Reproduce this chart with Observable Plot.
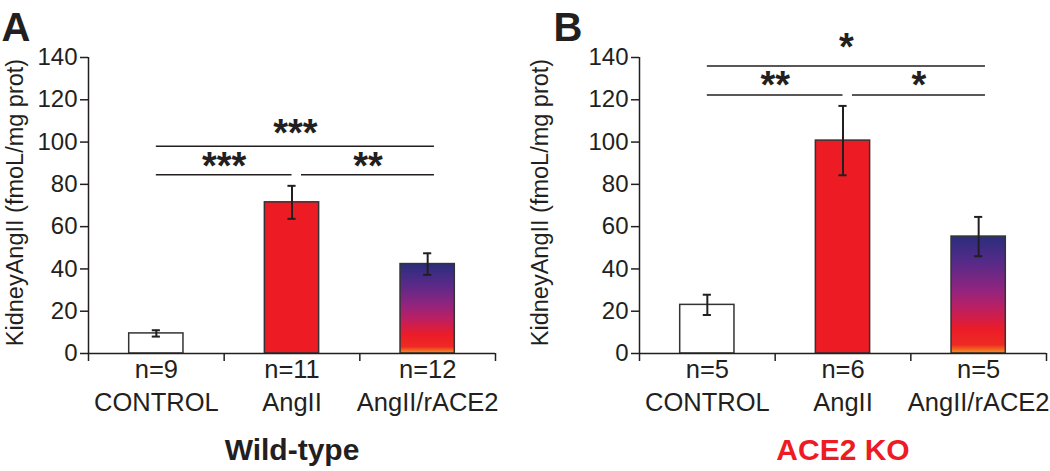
<!DOCTYPE html>
<html>
<head>
<meta charset="utf-8">
<script src="https://cdn.jsdelivr.net/npm/d3@7"></script>
<script src="https://cdn.jsdelivr.net/npm/@observablehq/plot@0.6"></script>
<style>
  html, body { margin: 0; padding: 0; background: #fff; }
  #row { display: flex; flex-direction: row; width: 1050px; height: 471px; }
  svg { font-family: "Liberation Sans", Arial, sans-serif; }
</style>
</head>
<body>
<div id="row"></div>
<script>
const categories = ["CONTROL", "AngII", "AngII/rACE2"];
const yTicks = [0, 20, 40, 60, 80, 100, 120, 140];

const wtValues = [9.5, 71.5, 42.3];
const wtErrors = [1.5, 7.8, 5.1];
const wtN = [9, 11, 12];

const koValues = [23.0, 100.7, 55.3];
const koErrors = [4.8, 16.4, 9.3];
const koN = [5, 6, 5];

const wtSig = [
  {from: 0, to: 2, level: 98, labelLevel: 107.3, label: "***"},
  {from: 0, to: 1, level: 84.5, labelLevel: 91.7, label: "***"},
  {from: 1, to: 2, level: 84.5, labelLevel: 91.7, label: "**"}
];
const koSig = [
  {from: 0, to: 2, level: 136, labelLevel: 148, label: "*"},
  {from: 0, to: 1, level: 122.3, labelLevel: 130.2, label: "**"},
  {from: 1, to: 2, level: 122.3, labelLevel: 130.2, label: "*"}
];

const fillColors = ["#ffffff", "#ed1c24", null];
const ink = "#231f20";

function gradientDefs(id) {
  return () => {
    const ns = "http://www.w3.org/2000/svg";
    const defs = document.createElementNS(ns, "defs");
    const g = document.createElementNS(ns, "linearGradient");
    g.setAttribute("id", id);
    g.setAttribute("x1", "0"); g.setAttribute("y1", "0");
    g.setAttribute("x2", "0"); g.setAttribute("y2", "1");
    const stops = [
      [0, "#2b2e7d"], [0.22, "#552a88"], [0.45, "#8e2580"], [0.62, "#bd1f62"],
      [0.8, "#ec1c27"], [0.93, "#ee2a24"], [1, "#f7941d"]
    ];
    for (const [o, c] of stops) {
      const s = document.createElementNS(ns, "stop");
      s.setAttribute("offset", o);
      s.setAttribute("stop-color", c);
      g.appendChild(s);
    }
    defs.appendChild(g);
    return defs;
  };
}

function panel({values, errors, ns, sig, title, titleColor, letter, marginLeft, marginRight, gradId, letterDx}) {
  const data = categories.map((c, i) => ({
    i, cat: c, value: values[i], err: errors[i], n: ns[i],
    fill: fillColors[i] ?? `url(#${gradId})`
  }));
  const lines = sig.map(s => ({
    ...s,
    x1: s.from + 0.5 + (s.from > 0 ? 0.07 : 0),
    x2: s.to + 0.5 + (s.to === 2 ? 0.05 : 0)
  }));
  return Plot.plot({
    width: 525,
    height: 471,
    marginLeft,
    marginRight,
    marginTop: 57,
    marginBottom: 118,
    style: {fontFamily: '"Liberation Sans", Arial, sans-serif', color: ink, overflow: "visible"},
    x: {domain: [0, 3], axis: null},
    y: {domain: [0, 140], axis: null},
    marks: [
      gradientDefs(gradId),
      Plot.axisY({ticks: yTicks, tickSize: 8, tickPadding: 3, fontSize: 24, label: null, stroke: ink, strokeWidth: 1.5, fill: ink}),
      Plot.axisX({ticks: [0, 1, 2, 3], tickSize: 8, tickFormat: () => "", label: null, stroke: ink, strokeWidth: 1.5}),
      Plot.ruleX([0], {y1: 0, y2: 140, stroke: ink, strokeWidth: 1.5}),
      Plot.rectY(data, {x1: d => d.i + 0.3, x2: d => d.i + 0.7, y: "value", fill: "fill", stroke: "#333", strokeWidth: 1.5}),
      Plot.ruleY([0], {x1: 0, x2: 3, stroke: ink, strokeWidth: 1.5}),
      Plot.ruleX(data, {x: d => d.i + 0.5, y1: d => d.value - d.err, y2: d => d.value + d.err, stroke: ink, strokeWidth: 2}),
      Plot.ruleY(data, {y: d => d.value + d.err, x1: d => d.i + 0.47, x2: d => d.i + 0.53, stroke: ink, strokeWidth: 2}),
      Plot.ruleY(data, {y: d => d.value - d.err, x1: d => d.i + 0.47, x2: d => d.i + 0.53, stroke: ink, strokeWidth: 2}),
      Plot.text(data, {x: d => d.i + 0.5, y: 0, text: d => `n=${d.n}\n${d.cat}`, lineAnchor: "top", dy: 1, fontSize: 25.5, lineHeight: 1.3, fill: ink}),
      Plot.ruleY(lines, {y: "level", x1: "x1", x2: "x2", stroke: ink, strokeWidth: 1.5}),
      Plot.text(lines, {x: d => (d.x1 + d.x2) / 2, y: "labelLevel", text: "label", dy: 7.3, fontSize: 38, fontWeight: "bold", fill: ink}),
      Plot.text(["KidneyAngII (fmoL/mg prot)"], {frameAnchor: "left", textAnchor: "middle", rotate: -90, dx: -(marginLeft - 15), dy: -3, fontSize: 23.5, fill: ink}),
      Plot.text([title], {frameAnchor: "bottom", dy: 106, fontSize: 30, fontWeight: "bold", fill: titleColor}),
      Plot.text([letter], {frameAnchor: "top-left", textAnchor: "start", lineAnchor: "top", dx: letterDx, dy: -45, fontSize: 40, fontWeight: "bold", fill: ink})
    ]
  });
}

const row = document.getElementById("row");
row.appendChild(panel({values: wtValues, errors: wtErrors, ns: wtN, sig: wtSig, title: "Wild-type", titleColor: ink, letter: "A", marginLeft: 88, marginRight: 30, gradId: "gradA", letterDx: -87}));
row.appendChild(panel({values: koValues, errors: koErrors, ns: koN, sig: koSig, title: "ACE2 KO", titleColor: "#ed1c24", letter: "B", marginLeft: 114, marginRight: 4, gradId: "gradB", letterDx: -86}));
</script>
</body>
</html>
